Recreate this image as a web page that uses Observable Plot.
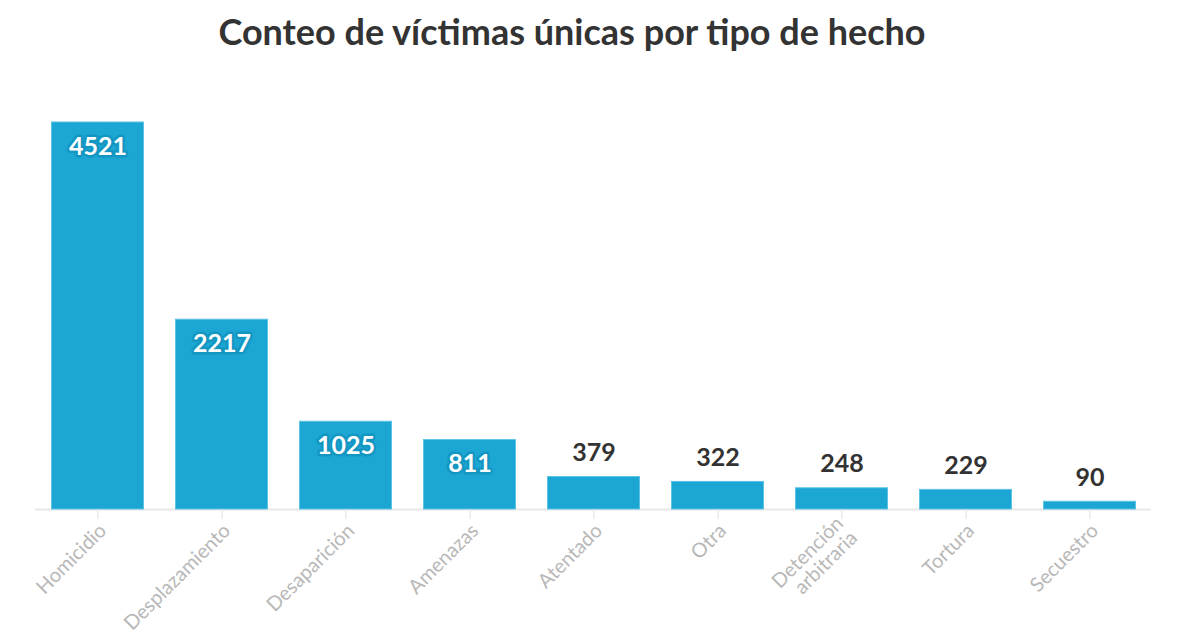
<!DOCTYPE html>
<html>
<head>
<meta charset="utf-8">
<script src="https://cdn.jsdelivr.net/npm/d3@7"></script>
<script src="https://cdn.jsdelivr.net/npm/@observablehq/plot@0.6"></script>
<style>
  html, body { margin: 0; padding: 0; background: #fff; }
  #title { height: 70px; box-sizing: border-box; padding-top: 10px; padding-right: 36px; text-align: center;
    font-family: Lato, sans-serif; font-weight: bold; font-size: 36px; color: #333; line-height: 1.2; }
  #chart svg { display: block; }
</style>
</head>
<body>
<div id="title">Conteo de víctimas únicas por tipo de hecho</div>
<div id="chart"></div>
<script>
const categories = ["Homicidio", "Desplazamiento", "Desaparición", "Amenazas", "Atentado", "Otra", "Detención\narbitraria", "Tortura", "Secuestro"];
const values = [4521, 2217, 1025, 811, 379, 322, 248, 229, 90];
const insideThreshold = 800;

const data = categories.map((c, i) => ({category: c, value: values[i]}));

const chart = Plot.plot({
  width: 1180,
  height: 565,
  marginLeft: 35,
  marginRight: 29,
  marginTop: 52,
  marginBottom: 126,
  style: {fontFamily: "Lato, sans-serif", background: "#fff"},
  x: {domain: categories, paddingInner: 0.25, paddingOuter: 0.125, label: null},
  y: {axis: null, label: null},
  marks: [
    Plot.ruleY([0], {stroke: "#e8e8e8", strokeWidth: 2}),
    Plot.barY(data, {x: "category", y: "value", fill: "#1ba6d3", stroke: "#5cc3e6", strokeWidth: 1, insetLeft: 0.5, insetRight: 0.5}),
    Plot.axisX({tickRotate: -45, tickSize: 10, tickPadding: 4, stroke: "#ddd", fill: "#b8b8b8", fontSize: 20, label: null, text: null}),
    Plot.axisX({tickRotate: -45, tickSize: 0, tickPadding: 18, dx: 5, fill: "#b8b8b8", fontSize: 20, label: null}),
    Plot.text(data.filter(d => d.value >= insideThreshold), {
      x: "category", y: "value", text: d => String(d.value), dy: 24,
      fill: "#fff", stroke: "#1496c2", strokeWidth: 5, strokeLinejoin: "round",
      fontSize: 25, fontWeight: "bold"
    }),
    Plot.text(data.filter(d => d.value < insideThreshold), {
      x: "category", y: "value", text: d => String(d.value), dy: -24,
      fill: "#333", fontSize: 25, fontWeight: "bold"
    })
  ]
});
document.getElementById("chart").appendChild(chart);
</script>
</body>
</html>
